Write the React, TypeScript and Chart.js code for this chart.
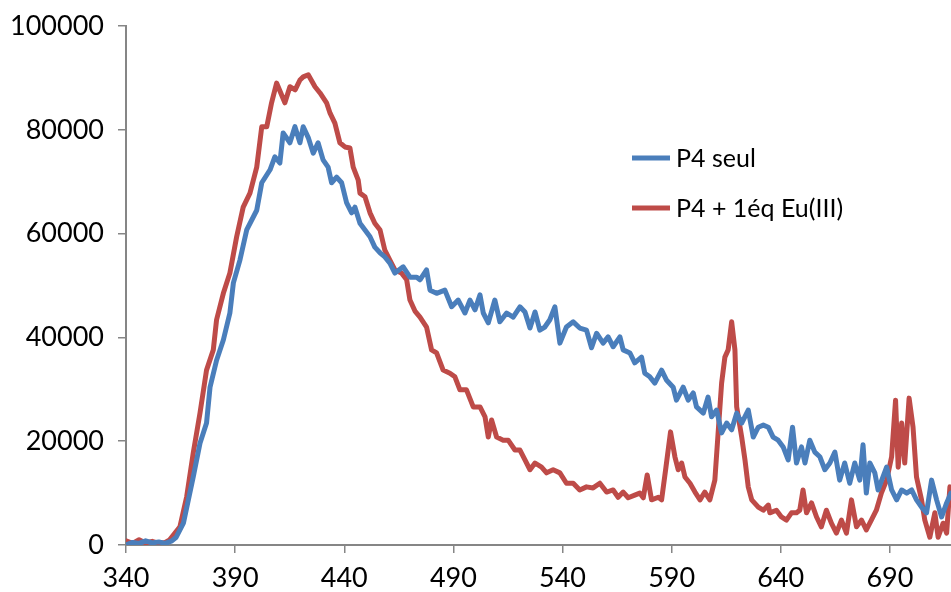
import React, { useEffect, useRef } from 'react';
import { Chart, registerables } from 'chart.js';

Chart.register(...registerables);

// Wavelength (nm) / intensity
const blueX = [340, 343, 346, 349, 352, 355, 358, 361, 363, 366.3, 370.8, 373.9, 376.9, 378.5, 381.5, 384.6, 387.6, 389.2, 392.2, 395.3, 399.9, 402.2, 406, 408.2, 410.5, 412, 415.1, 417.4, 419.7, 421.2, 423.5, 425.8, 428, 430.3, 432.6, 434.2, 436.5, 438.8, 441.1, 443.4, 444.9, 447.2, 449.5, 451.8, 454, 456.4, 458.6, 460.9, 463.2, 467, 470.1, 473.2, 474.7, 477.7, 479.3, 482.3, 486.1, 489.2, 492.2, 495.3, 497.6, 499.9, 502.2, 503.7, 506, 509, 511.3, 514.4, 517.4, 520.5, 522.8, 525.1, 527.4, 529.6, 531.9, 534.2, 536.5, 538.8, 541.8, 544.9, 547.9, 551, 553.3, 555.6, 558.6, 560.9, 563.2, 566.3, 567.8, 570.9, 573.1, 576.2, 577.7, 580, 582.3, 585.4, 587.6, 590.7, 592.2, 595.3, 597.6, 599.9, 601.4, 604.5, 606.7, 608.3, 610.6, 612.9, 615.2, 617.5, 619.8, 622.1, 625.1, 627.4, 629.7, 632, 634.3, 636.5, 638.8, 641.1, 643.4, 645.4, 647.2, 649.5, 651.1, 653.3, 655.6, 657.9, 660.2, 662.5, 664.8, 667, 669.3, 671.6, 673.9, 676.2, 677.7, 679.2, 680.8, 683.1, 684.6, 686.8, 688.5, 690.8, 693.1, 695.4, 697.7, 700, 702.2, 704.5, 706.8, 709.1, 711.4, 713.7, 716, 718];
const blueY = [0, 500, 300, 800, 400, 600, 300, 800, 1500, 4200, 13100, 19600, 23500, 30400, 35600, 39500, 44700, 50500, 54900, 60700, 64500, 69800, 72300, 74800, 73600, 79400, 77500, 80600, 77500, 80600, 78500, 75500, 77500, 74200, 72800, 69800, 70900, 69800, 65900, 64000, 65100, 62000, 60700, 59400, 57400, 56300, 55500, 54300, 52400, 53600, 51600, 51600, 51100, 53000, 49100, 48500, 49100, 45900, 47200, 44700, 47200, 45300, 48200, 44700, 42800, 47200, 43000, 44700, 43900, 45900, 44900, 41800, 44900, 41400, 42000, 43400, 45900, 38900, 42000, 43000, 41800, 41400, 38000, 40800, 38900, 40100, 38200, 40100, 37600, 37000, 35100, 36200, 33100, 32400, 31200, 33700, 31800, 30400, 27900, 30400, 27900, 29300, 26600, 25400, 28500, 24700, 26000, 21600, 23500, 22200, 25400, 23500, 26000, 20800, 22700, 23100, 22700, 20800, 20200, 18900, 16400, 22700, 15800, 18900, 15800, 20200, 17900, 17000, 14500, 15800, 17900, 12500, 15800, 11900, 15800, 12500, 19300, 10000, 15800, 13900, 10600, 13100, 15000, 10600, 8700, 10600, 10000, 10600, 8700, 7300, 6200, 12500, 8700, 5400, 8100, 10000];

const redX = [340, 343, 346, 349, 352, 355, 358, 360, 364.7, 367.8, 370.8, 373.9, 376.9, 380, 381.5, 384.6, 387.6, 390.7, 393.7, 396.8, 399.9, 402.2, 404.5, 406.7, 409, 412.8, 415.1, 417.5, 419.7, 421.2, 423.5, 426.6, 428.9, 431.9, 433.5, 435.7, 438, 440.3, 442.6, 444.1, 446.4, 447.2, 449.5, 451.8, 454, 456.4, 458.6, 460.9, 463.2, 466.2, 468.6, 470.1, 472.5, 474.7, 477.7, 480, 482.3, 485.3, 488.4, 490.7, 493, 496, 499.1, 502.2, 504.5, 506, 507.5, 509.8, 512.8, 515.1, 518.2, 520.5, 522.8, 525.1, 527.4, 530.4, 532.7, 535.7, 538.8, 541.8, 544.9, 547.9, 551, 554, 557.1, 560.2, 563.2, 565.5, 567.8, 570.1, 573.1, 575.4, 577, 578.8, 580.8, 583.9, 585.4, 587.4, 589.5, 591.5, 593, 594.6, 596.1, 598.4, 600.7, 603, 605.2, 607.5, 609.8, 611.3, 612.9, 614.4, 615.9, 617.5, 619, 619.8, 622.1, 623.6, 625.1, 626.7, 629.7, 632, 634.3, 635, 638, 640.3, 642.6, 644.9, 647.2, 648.7, 650.2, 651.8, 654.1, 656.4, 658.6, 660.9, 663.2, 665.5, 667.8, 670.1, 672.4, 674.7, 677, 679.2, 681.5, 683.8, 686.1, 688.5, 690.8, 692.6, 693.8, 695.4, 696.8, 698.8, 700.6, 702.2, 704.5, 706, 708.3, 710.6, 712.1, 714.4, 716, 717.5];
const redY = [800, 300, 1000, 400, 700, 300, 500, 1000, 3500, 9300, 17700, 25400, 33700, 37600, 43400, 48500, 52400, 59400, 65100, 67800, 72800, 80600, 80600, 85200, 89000, 85200, 88300, 87700, 89600, 90200, 90600, 88300, 87100, 85200, 83200, 81300, 77500, 76700, 76500, 72800, 70300, 67800, 67100, 64000, 62000, 60700, 56800, 54900, 53000, 52400, 51100, 47200, 45000, 43900, 42000, 37600, 37000, 33700, 33100, 32400, 29900, 29900, 26600, 26600, 24700, 20800, 24100, 20800, 20200, 20200, 18300, 18300, 16400, 14500, 15800, 15000, 13900, 14500, 13900, 11900, 11900, 10600, 11200, 11000, 11900, 10200, 10600, 9200, 10200, 9100, 9600, 10000, 9100, 13500, 8700, 9200, 8700, 15000, 21800, 17000, 14500, 15800, 13100, 11900, 10200, 8700, 10200, 8700, 12500, 21600, 31200, 36200, 37600, 43000, 37600, 26600, 20800, 16400, 11200, 8700, 7300, 6700, 7700, 6200, 6700, 5400, 4800, 6200, 6200, 6700, 10600, 6200, 8100, 5400, 3500, 6700, 4200, 2300, 4800, 2300, 8700, 3500, 4800, 2900, 4800, 6700, 10000, 12500, 17000, 27900, 15000, 23500, 15800, 28300, 22700, 13100, 8700, 4800, 1500, 6200, 1500, 4200, 2300, 11200];

const seriesLabels = ['P4 seul', 'P4 + 1éq Eu(III)'];
const xTicks = [340, 390, 440, 490, 540, 590, 640, 690];
const yTicks = [0, 20000, 40000, 60000, 80000, 100000];

const BLUE = '#4A7EBB';
const RED = '#BE4B48';
const AXIS = '#868686';
const FONT = 'Lato, "Open Sans", sans-serif';

const insideLegend = {
  id: 'insideLegend',
  afterDraw(chart: any) {
    const ctx = chart.ctx;
    ctx.save();
    chart.data.datasets.forEach((ds: any, i: number) => {
      const y = 158 + i * 50;
      ctx.strokeStyle = ds.borderColor;
      ctx.lineWidth = 5;
      ctx.lineCap = 'butt';
      ctx.beginPath();
      ctx.moveTo(632, y);
      ctx.lineTo(670, y);
      ctx.stroke();
      ctx.fillStyle = '#000';
      ctx.font = `25px ${FONT}`;
      ctx.textBaseline = 'middle';
      ctx.textAlign = 'left';
      ctx.fillText(ds.label, 676, y + 1);
    });
    ctx.restore();
  },
};

export default function App() {
  const ref = useRef<HTMLCanvasElement | null>(null);
  useEffect(() => {
    if (!ref.current) return;
    const chart = new Chart(ref.current, {
      type: 'line',
      data: {
        datasets: [
          {
            label: seriesLabels[0],
            data: blueX.map((x, i) => ({ x, y: blueY[i] })),
            borderColor: BLUE,
            backgroundColor: BLUE,
            borderWidth: 5,
            pointRadius: 0,
            tension: 0,
            borderJoinStyle: 'round',
            borderCapStyle: 'round',
          },
          {
            label: seriesLabels[1],
            data: redX.map((x, i) => ({ x, y: redY[i] })),
            borderColor: RED,
            backgroundColor: RED,
            borderWidth: 5,
            pointRadius: 0,
            tension: 0,
            borderJoinStyle: 'round',
            borderCapStyle: 'round',
          },
        ],
      },
      options: {
        animation: false,
        responsive: false,
        maintainAspectRatio: false,
        layout: { padding: { top: 26, right: 0, bottom: 0, left: 0 } },
        plugins: { legend: { display: false }, tooltip: { enabled: false } },
        scales: {
          x: {
            type: 'linear',
            min: 340,
            max: 718,
            afterBuildTicks: (s: any) => {
              s.ticks = xTicks.map((v) => ({ value: v }));
            },
            afterFit: (s: any) => {
              s.height = 47;
            },
            ticks: {
              color: '#000',
              font: { family: FONT, size: 27 },
              padding: 9,
              maxRotation: 0,
              autoSkip: false,
            },
            grid: { drawOnChartArea: false, drawTicks: true, tickLength: 8, color: AXIS, lineWidth: 1.5 },
            border: { color: AXIS, width: 2 },
          },
          y: {
            type: 'linear',
            min: 0,
            max: 100000,
            afterBuildTicks: (s: any) => {
              s.ticks = yTicks.map((v) => ({ value: v }));
            },
            afterFit: (s: any) => {
              s.width = 126;
              s.paddingTop = 0;
              s.paddingBottom = 0;
            },
            ticks: {
              color: '#000',
              font: { family: FONT, size: 27 },
              padding: 14,
              callback: (v: any) => String(v),
            },
            grid: { drawOnChartArea: false, drawTicks: true, tickLength: 8, color: AXIS, lineWidth: 1.5 },
            border: { color: AXIS, width: 2 },
          },
        },
      },
      plugins: [insideLegend],
    });
    return () => chart.destroy();
  }, []);
  return (
    <div style={{ position: 'fixed', left: 0, top: 0, width: 951, height: 592, background: '#fff' }}>
      <canvas ref={ref} width={951} height={592} style={{ display: 'block' }} />
    </div>
  );
}
